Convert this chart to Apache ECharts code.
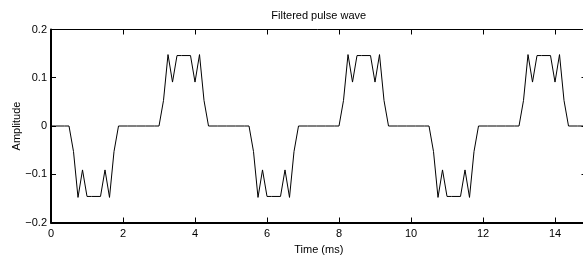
<!DOCTYPE html>
<html>
<head>
<meta charset="utf-8">
<script src="https://cdn.jsdelivr.net/npm/echarts@6/dist/echarts.min.js"></script>
<style>
  html, body { margin: 0; padding: 0; background: #fff; }
  #chart { width: 583px; height: 257px; }
</style>
</head>
<body>
<div id="chart"></div>
<script>
// sampled at 8 kHz -> one sample every 0.125 ms
var sampleStep = 0.125;
var amplitude = [
  0, 0, 0, 0, 0, -0.053, -0.148, -0.091, -0.146, -0.146,
  -0.146, -0.146, -0.091, -0.148, -0.053, 0, 0, 0, 0, 0,
  0, 0, 0, 0, 0, 0.053, 0.148, 0.091, 0.146, 0.146,
  0.146, 0.146, 0.091, 0.148, 0.053, 0, 0, 0, 0, 0,
  0, 0, 0, 0, 0, -0.053, -0.148, -0.091, -0.146, -0.146,
  -0.146, -0.146, -0.091, -0.148, -0.053, 0, 0, 0, 0, 0,
  0, 0, 0, 0, 0, 0.053, 0.148, 0.091, 0.146, 0.146,
  0.146, 0.146, 0.091, 0.148, 0.053, 0, 0, 0, 0, 0,
  0, 0, 0, 0, 0, -0.053, -0.148, -0.091, -0.146, -0.146,
  -0.146, -0.146, -0.091, -0.148, -0.053, 0, 0, 0, 0, 0,
  0, 0, 0, 0, 0, 0.053, 0.148, 0.091, 0.146, 0.146,
  0.146, 0.146, 0.091, 0.148, 0.053, 0, 0, 0, 0, 0
];
var yTicks = [-0.2, -0.1, 0, 0.1, 0.2];
var xTicks = [0, 2, 4, 6, 8, 10, 12, 14];

function buildPoints(){
  var pts = [];
  for(var i=0;i<amplitude.length;i++){
    pts.push([i*sampleStep, amplitude[i]]);
  }
  return pts;
}

function yLabel(v){
  var s = String(Math.round(v*10)/10);
  return s.replace('-', '\u2212');
}

var font = 'Liberation Sans, Arial, sans-serif';
var tMax = (amplitude.length-1)*sampleStep;

var myChart = echarts.init(document.getElementById('chart'));
var option = {
  animation: false,
  grid: {
    left: 51,
    top: 29.5,
    width: 535.5,
    height: 193,
    containLabel: false,
    outerBoundsMode: 'none'
  },
  xAxis: [
    {
      type: 'value',
      min: 0,
      max: tMax,
      interval: 2,
      position: 'bottom',
      name: 'Time (ms)',
      nameLocation: 'middle',
      nameGap: 19,
      nameTextStyle: {color: '#000', fontSize: 11, fontFamily: font},
      axisLine: {onZero: false, lineStyle: {color: '#000', width: 2}},
      axisTick: {inside: true, length: 5, lineStyle: {color: '#000'}},
      axisLabel: {color: '#000', fontSize: 11, fontFamily: font, margin: 6,
        showMaxLabel: false,
        formatter: function(v){ return xTicks.indexOf(v) > -1 ? String(v) : ''; }},
      splitLine: {show: false}
    },
    {
      type: 'value',
      min: 0,
      max: tMax,
      interval: 2,
      position: 'top',
      name: 'Filtered pulse wave',
      nameLocation: 'middle',
      nameGap: 8,
      nameTextStyle: {color: '#000', fontSize: 11, fontFamily: font},
      axisLine: {onZero: false, lineStyle: {color: '#000', width: 1}},
      axisTick: {inside: true, length: 5, lineStyle: {color: '#000'}},
      axisLabel: {show: false},
      splitLine: {show: false}
    }
  ],
  yAxis: [
    {
      type: 'value',
      min: -0.2,
      max: 0.2,
      interval: 0.1,
      position: 'left',
      name: 'Amplitude',
      nameLocation: 'middle',
      nameGap: 29,
      nameMoveOverlap: false,
      nameTextStyle: {color: '#000', fontSize: 11, fontFamily: font},
      axisLine: {onZero: false, lineStyle: {color: '#000', width: 2}},
      axisTick: {inside: true, length: 5, lineStyle: {color: '#000'}},
      axisLabel: {color: '#000', fontSize: 11, fontFamily: font, margin: 4,
        formatter: yLabel},
      splitLine: {show: false}
    },
    {
      type: 'value',
      min: -0.2,
      max: 0.2,
      interval: 0.1,
      position: 'right',
      axisLine: {onZero: false, lineStyle: {color: '#000', width: 1}},
      axisTick: {inside: true, length: 5, lineStyle: {color: '#000'}},
      axisLabel: {show: false},
      splitLine: {show: false}
    }
  ],
  series: [
    {
      name: 'pulse',
      type: 'line',
      xAxisIndex: 0,
      yAxisIndex: 0,
      showSymbol: false,
      symbol: 'none',
      lineStyle: {color: '#000', width: 1},
      data: buildPoints()
    }
  ]
};
myChart.setOption(option);
</script>
</body>
</html>
